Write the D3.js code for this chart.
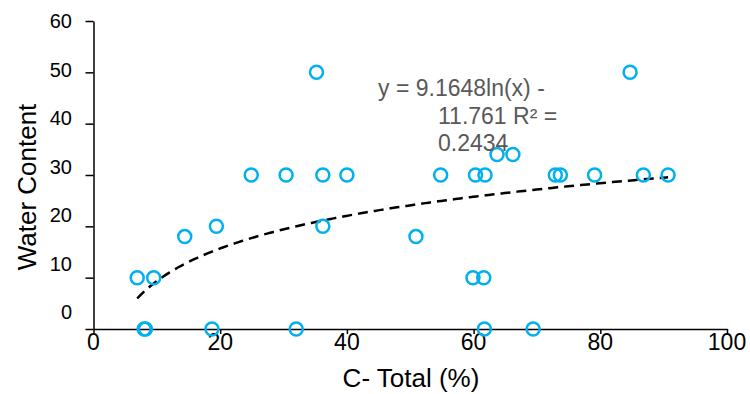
<!DOCTYPE html>
<html>
<head>
<meta charset="utf-8">
<script src="https://cdn.jsdelivr.net/npm/d3@7"></script>
<style>
  body { margin: 0; background: #fff; }
  text { font-family: "Liberation Sans", Arial, sans-serif; }
</style>
</head>
<body>
<svg id="chart"></svg>
<script>
const width = 750;
const height = 394;

// C- Total (%) vs Water Content
const cTotal = [6.9, 9.5, 8.0, 8.2, 14.4, 19.4, 18.7, 24.9, 30.4, 36.2, 40.0, 36.2, 32.0, 35.2,
                54.8, 60.3, 61.8, 63.7, 66.2, 72.9, 73.7, 79.1, 86.8, 90.7, 50.9, 59.9, 61.6, 61.7, 69.4, 84.7];
const water  = [10, 10, 0, 0, 18, 20, 0, 30, 30, 30, 30, 20, 0, 50,
                30, 30, 30, 34, 34, 30, 30, 30, 30, 30, 18, 10, 10, 0, 0, 50];

const xTicks = [0, 20, 40, 60, 80, 100];
const yTicks = [0, 10, 20, 30, 40, 50, 60];

// log trendline from the chart
const slope = 9.1648;
const intercept = -11.761;
const eqLines = ["y = 9.1648ln(x) -", "11.761 R\u00b2 =", "0.2434"];

let svg = d3.select('#chart')
        .attr('width', width)
        .attr('height', height);

let x = d3.scaleLinear().domain([0, 100]).range([93.5, 727]);
let y = d3.scaleLinear().domain([0, 60]).range([329, 21]);
// tick labels in the picture sit a bit off their ticks
let yLab = d3.scaleLinear().domain([0, 60]).range([312, 21]);

////axes
let xAxis = svg.append("g")
        .attr("transform", "translate(0," + y(0) + ")")
        .call(d3.axisBottom(x).tickValues(xTicks).tickSize(5).tickSizeOuter(0).tickFormat(""));
let yAxis = svg.append("g")
        .attr("transform", "translate(" + x(0) + ",0)")
        .call(d3.axisLeft(y).tickValues(yTicks).tickSize(8).tickSizeOuter(0).tickFormat(""));
svg.selectAll(".domain, .tick line").attr("stroke", "#000").attr("stroke-width", 1.5);

svg.selectAll(".xlab")
        .data(xTicks)
        .enter().append("text")
        .attr("x", d => x(d))
        .attr("y", 350)
        .attr("text-anchor", "middle")
        .style("font-size", "23px")
        .style("fill", "#000")
        .text(d => d);

svg.selectAll(".ylab")
        .data(yTicks)
        .enter().append("text")
        .attr("x", 72)
        .attr("y", d => yLab(d))
        .attr("dy", "0.35em")
        .attr("text-anchor", "end")
        .style("font-size", "20px")
        .style("fill", "#000")
        .text(d => d);

svg.append("text")
        .attr("x", 411)
        .attr("y", 387)
        .attr("text-anchor", "middle")
        .style("font-size", "26px")
        .text("C- Total (%)");

svg.append("text")
        .attr("transform", "translate(36,187) rotate(-90)")
        .attr("text-anchor", "middle")
        .style("font-size", "26px")
        .text("Water Content");

////trendline
let xmin = d3.min(cTotal), xmax = d3.max(cTotal);
let trend = d3.range(xmin, xmax, 0.5).concat([xmax])
        .map(v => ({x: v, y: slope * Math.log(v) + intercept}));

svg.append("path")
        .datum(trend)
        .attr("d", d3.line().x(d => x(d.x)).y(d => y(d.y)))
        .attr("fill", "none")
        .attr("stroke", "#000")
        .attr("stroke-width", 2.5)
        .attr("stroke-dasharray", "10,6");

////points
svg.selectAll(".pt")
        .data(cTotal)
        .enter().append("circle")
        .attr("cx", d => x(d))
        .attr("cy", (d, i) => y(water[i]))
        .attr("r", 6.5)
        .attr("fill", "none")
        .attr("stroke", "#00B0F0")
        .attr("stroke-width", 2.5);

////equation label
const eqPos = [[378, 96], [438, 124], [438, 151]];
svg.selectAll(".eq")
        .data(eqLines)
        .enter().append("text")
        .attr("x", (d, i) => eqPos[i][0])
        .attr("y", (d, i) => eqPos[i][1])
        .style("font-size", "23px")
        .style("fill", "#595959")
        .text(d => d);
</script>
</body>
</html>
